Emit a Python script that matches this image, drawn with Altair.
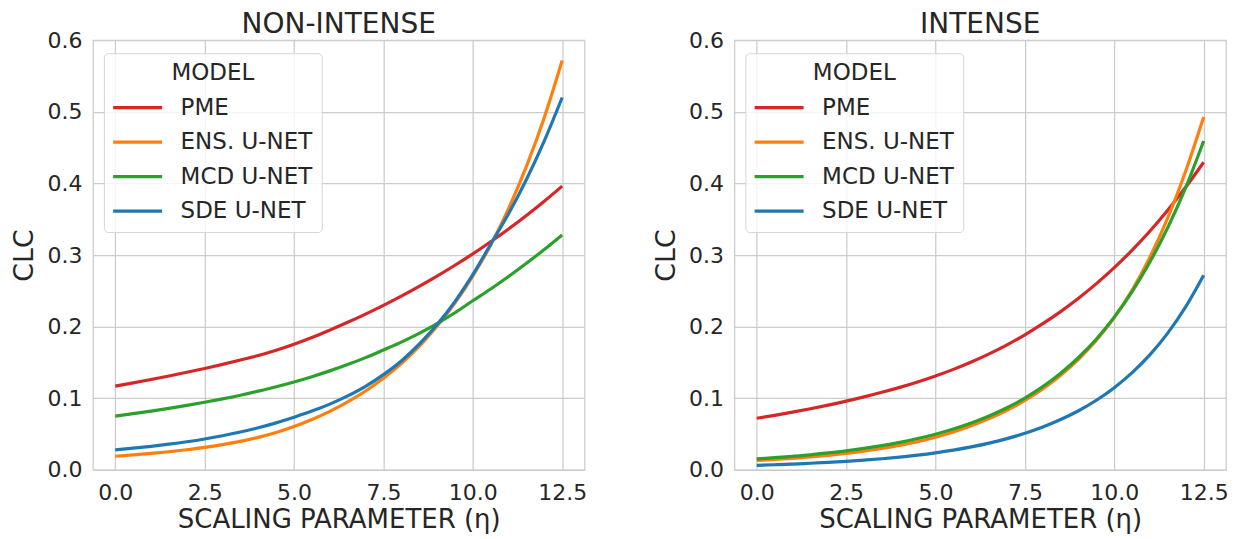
import altair as alt
import pandas as pd

ETA = [0.0, 0.5, 1.0, 1.5, 2.0, 2.5, 3.0, 3.5, 4.0, 4.5, 5.0, 5.5, 6.0,
       6.5, 7.0, 7.5, 8.0, 8.5, 9.0, 9.5, 10.0, 10.5, 11.0, 11.5, 12.0, 12.5]

MODELS = ["PME", "ENS. U-NET", "MCD U-NET", "SDE U-NET"]
COLORS = ["#d62728", "#ff7f0e", "#2ca02c", "#1f77b4"]
X_TICKS = [0.0, 2.5, 5.0, 7.5, 10.0, 12.5]
Y_TICKS = [0.0, 0.1, 0.2, 0.3, 0.4, 0.5, 0.6]

# NON-INTENSE panel
NI_PME = [0.1170, 0.1215, 0.1262, 0.1311, 0.1362, 0.1416, 0.1473, 0.1533, 0.1597,
          0.1671, 0.1754, 0.1847, 0.1951, 0.2060, 0.2175, 0.2297, 0.2426, 0.2562,
          0.2705, 0.2857, 0.3017, 0.3186, 0.3364, 0.3553, 0.3752, 0.3962]
NI_ENS = [0.0190, 0.0208, 0.0229, 0.0253, 0.0281, 0.0313, 0.0352, 0.0398, 0.0454,
          0.0522, 0.0605, 0.0703, 0.0816, 0.0948, 0.1101, 0.1279, 0.1485, 0.1725,
          0.2004, 0.2328, 0.2704, 0.3140, 0.3648, 0.4237, 0.4921, 0.5716]
NI_MCD = [0.0750, 0.0784, 0.0820, 0.0858, 0.0900, 0.0944, 0.0991, 0.1042, 0.1099,
          0.1160, 0.1227, 0.1301, 0.1382, 0.1470, 0.1567, 0.1674, 0.1784, 0.1906,
          0.2043, 0.2194, 0.2361, 0.2526, 0.2700, 0.2884, 0.3077, 0.3280]
NI_SDE = [0.0280, 0.0302, 0.0328, 0.0358, 0.0392, 0.0431, 0.0476, 0.0528, 0.0588,
          0.0656, 0.0735, 0.0820, 0.0918, 0.1033, 0.1167, 0.1330, 0.1520, 0.1755,
          0.2030, 0.2350, 0.2725, 0.3150, 0.3575, 0.4055, 0.4595, 0.5200]

# INTENSE panel
IN_PME = [0.0720, 0.0761, 0.0805, 0.0853, 0.0904, 0.0959, 0.1019, 0.1083, 0.1152,
          0.1228, 0.1311, 0.1403, 0.1506, 0.1620, 0.1746, 0.1886, 0.2041, 0.2210,
          0.2396, 0.2600, 0.2823, 0.3069, 0.3336, 0.3629, 0.3949, 0.4296]
IN_ENS = [0.0130, 0.0144, 0.0161, 0.0180, 0.0203, 0.0229, 0.0261, 0.0298, 0.0342,
          0.0394, 0.0456, 0.0529, 0.0615, 0.0715, 0.0832, 0.0969, 0.1130, 0.1320,
          0.1544, 0.1810, 0.2127, 0.2510, 0.2974, 0.3524, 0.4176, 0.4928]
IN_MCD = [0.0153, 0.0170, 0.0189, 0.0210, 0.0236, 0.0265, 0.0299, 0.0338, 0.0384,
          0.0437, 0.0498, 0.0570, 0.0654, 0.0752, 0.0867, 0.1002, 0.1162, 0.1349,
          0.1569, 0.1828, 0.2133, 0.2489, 0.2905, 0.3387, 0.3945, 0.4592]
IN_SDE = [0.0062, 0.0071, 0.0080, 0.0092, 0.0105, 0.0119, 0.0136, 0.0155, 0.0178,
          0.0205, 0.0237, 0.0275, 0.0320, 0.0373, 0.0436, 0.0510, 0.0598, 0.0702,
          0.0825, 0.0972, 0.1147, 0.1357, 0.1609, 0.1913, 0.2279, 0.2718]

TEXT = "#262626"
FONT = "DejaVu Sans"


def long_frame(series):
    rows = []
    for model, vals in zip(MODELS, series):
        for e, v in zip(ETA, vals):
            rows.append({"eta": e, "clc": v, "model": model})
    return pd.DataFrame(rows)


def panel(title, series):
    df = long_frame(series)
    legend = alt.Legend(
        title="MODEL", orient="none", legendX=11, legendY=13,
        fillColor="rgba(255,255,255,0.8)", strokeColor="#d6d6d6", cornerRadius=4,
        padding=9, symbolType="M-1.566,0H1.566", symbolSize=980,
        symbolStrokeWidth=3.2, symbolOffset=7.25, labelOffset=25.5,
        labelFontSize=23, titleFontSize=23, titleFontWeight="normal",
        titleAnchor="middle", titlePadding=5, rowPadding=4.5,
        labelColor=TEXT, titleColor=TEXT, labelFont=FONT, titleFont=FONT,
    )
    ttl = alt.Title(title, offset=-10, anchor="middle", fontSize=28,
                    fontWeight="normal", color=TEXT, font=FONT)
    return alt.Chart(df, title=ttl).mark_line(
        strokeWidth=3.2, interpolate="monotone"
    ).encode(
        x=alt.X("eta:Q",
                scale=alt.Scale(domain=[-0.625, 13.125], nice=False, zero=False),
                axis=alt.Axis(values=X_TICKS, format=".1f",
                              title="SCALING PARAMETER (η)")),
        y=alt.Y("clc:Q",
                scale=alt.Scale(domain=[0, 0.6], nice=False),
                axis=alt.Axis(values=Y_TICKS, format=".1f", title="CLC")),
        color=alt.Color("model:N", sort=MODELS,
                        scale=alt.Scale(domain=MODELS, range=COLORS),
                        legend=legend),
    ).properties(width=492, height=430)


left = panel("NON-INTENSE", [NI_PME, NI_ENS, NI_MCD, NI_SDE])
right = panel("INTENSE", [IN_PME, IN_ENS, IN_MCD, IN_SDE])

chart = (
    alt.hconcat(left, right, spacing=64)
    .resolve_legend(color="independent")
    .properties(padding={"left": 2, "top": 2, "right": 0, "bottom": 0})
    .configure(font=FONT)
    .configure_view(stroke="#cccccc", strokeWidth=1.25)
    .configure_axis(domain=False, ticks=False, grid=True, gridColor="#cccccc",
                    gridWidth=1.25, labelFontSize=22, labelColor=TEXT,
                    titleFontSize=26, titleFontWeight="normal", titleColor=TEXT,
                    labelFont=FONT, titleFont=FONT)
    .configure_axisX(labelPadding=13, titlePadding=3)
    .configure_axisY(labelPadding=11, titlePadding=8, titleFontSize=27)
)

chart.save("out.html", embed_options={"renderer": "svg", "actions": False})
